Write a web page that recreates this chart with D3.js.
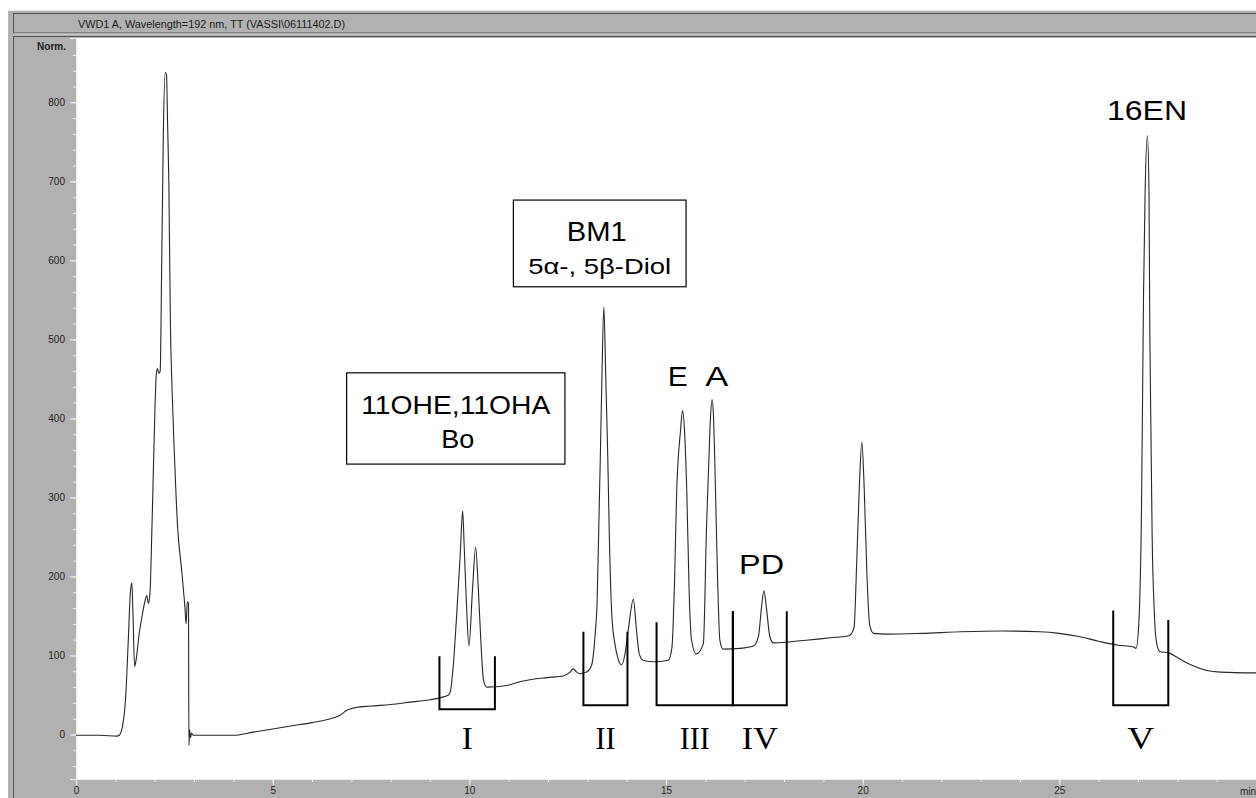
<!DOCTYPE html>
<html>
<head>
<meta charset="utf-8">
<script src="https://cdn.jsdelivr.net/npm/d3@7"></script>
<style>
  body { margin: 0; background: #fff; }
  svg { display: block; }
</style>
</head>
<body>
<div id="chart"></div>
<script>
// Chromatogram trace: retention time (min) and detector signal (Norm.)
const traceTime = [
  0.00, 0.60, 1.05, 1.10, 1.18, 1.26, 1.33, 1.38, 1.42, 1.45, 1.49, 1.53, 1.60, 1.68, 1.75, 1.80, 1.84, 1.88,
  1.93, 1.99, 2.04, 2.07, 2.11, 2.14, 2.18, 2.22, 2.27, 2.30, 2.33, 2.36, 2.40, 2.44, 2.49, 2.58, 2.69, 2.77,
  2.80, 2.83, 2.86, 2.87, 2.89, 2.91, 2.94, 2.98, 3.20, 3.60, 4.00, 4.50, 5.00, 5.50, 6.00, 6.40, 6.70, 6.90,
  7.10, 7.50, 8.00, 8.50, 9.00, 9.30, 9.47, 9.52, 9.59, 9.68, 9.77, 9.83, 9.87, 9.93, 9.99, 10.08, 10.16, 10.23,
  10.30, 10.36, 10.44, 10.95, 11.30, 11.97, 12.39, 12.56, 12.64, 12.73, 12.81, 12.98, 13.11, 13.20, 13.25, 13.29,
  13.33, 13.37, 13.42, 13.47, 13.52, 13.56, 13.62, 13.70, 13.78, 13.87, 13.95, 14.04, 14.17, 14.25, 14.32, 14.42,
  14.68, 15.06, 15.15, 15.22, 15.27, 15.37, 15.42, 15.47, 15.53, 15.59, 15.65, 15.77, 15.95, 16.03, 16.09, 16.13,
  16.17, 16.21, 16.25, 16.31, 16.37, 16.45, 16.88, 17.22, 17.35, 17.43, 17.49, 17.56, 17.64, 17.73, 18.50, 18.92,
  19.30, 19.65, 19.78, 19.85, 19.92, 19.98, 20.04, 20.11, 20.18, 20.28, 20.60, 21.50, 22.50, 23.50, 24.50, 25.00,
  25.50, 26.00, 26.50, 26.87, 26.95, 27.02, 27.09, 27.14, 27.18, 27.24, 27.28, 27.30, 27.33, 27.36, 27.41, 27.46,
  27.55, 27.80, 27.98, 28.15, 28.40, 28.75, 29.10, 30.00
];
const traceSignal = [
  -1, -1, -2, -1, 10, 45, 120, 178, 192, 150, 86, 95, 125, 150, 168, 176, 166, 178,
  260, 380, 455, 463, 457, 460, 600, 760, 838, 835, 770, 700, 520, 440, 370, 265, 206, 160,
  140, 168, 166, -14, 6, -4, 2, -1, -1, -1, -1, 3, 7, 11, 15, 19, 24, 31,
  34, 36, 38, 41, 44, 47, 50, 55, 86, 153, 229, 283, 237, 161, 112, 183, 237, 183,
  111, 69, 60, 62, 67, 72, 74, 79, 83, 79, 77, 79, 88, 128, 170, 260,
  350, 450, 541, 450, 350, 250, 153, 115, 96, 88, 100, 132, 171, 132, 102, 94,
  92, 94, 110, 200, 305, 385, 410, 385, 305, 178, 119, 102, 115, 263, 347, 400,
  424, 400, 326, 200, 119, 108, 109, 112, 124, 162, 182, 157, 124, 116, 119, 121,
  123, 125, 135, 220, 320, 370, 310, 200, 138, 128, 127, 128, 130, 131, 130, 128,
  124, 118, 113, 111, 109, 140, 290, 553, 684, 758, 684, 513, 381, 250, 160, 120,
  105, 103, 98, 93, 87, 81, 79, 78
];

// Axis ticks
const xMajorTicks = [0, 5, 10, 15, 20, 25];
const xMinorTicks = d3.range(0, 31, 1);
const yMajorTicks = [0, 100, 200, 300, 400, 500, 600, 700, 800];
const yMinorTicks = d3.range(-40, 880, 20);

// Collected fractions (brackets under the trace)
const fractionNames = ["I", "II", "III", "IV", "V"];
const fractionStart = [9.24, 12.90, 14.76, 16.70, 26.37];
const fractionEnd   = [10.65, 14.02, 16.70, 18.07, 27.77];
const fractionTopL  = [99, 130, 142, 156, 157];
const fractionTopR  = [99, 130, 156, 156, 145];
const fractionFloor = [32, 37, 37, 37, 37];

// Peak names
const peakNames = ["E", "A", "PD", "16EN"];
const peakTimes = [15.30, 16.29, 17.43, 27.23];
const peakLabelLevel = [442, 442, 204, 779];

const titleText = "VWD1 A, Wavelength=192 nm, TT (VASSI\\06111402.D)";

const W = 1256, H = 798;
const svg = d3.select("#chart").append("svg")
    .attr("width", W)
    .attr("height", H);

// scales: plot area spans 76..1256 px and 38..779 px
const x = d3.scaleLinear().domain([0, 30]).range([76, 1256]);
const y = d3.scaleLinear().domain([-56.3, 881.4]).range([779, 38]);

// window frame (grey ChemStation look)
svg.append("rect").attr("x", 8).attr("y", 10).attr("width", W).attr("height", H)
   .attr("fill", "#b1b1b1");
svg.append("line").attr("x1", 8).attr("x2", W).attr("y1", 10.5).attr("y2", 10.5)
   .attr("stroke", "#e2e2e2");
svg.append("rect").attr("x", 13.5).attr("y", 13.5).attr("width", W).attr("height", 19.5)
   .attr("fill", "#b1b1b1").attr("stroke", "#505050");
svg.append("line").attr("x1", 14).attr("x2", W).attr("y1", 34).attr("y2", 34)
   .attr("stroke", "#dcdcdc");
svg.append("rect").attr("x", 13.5).attr("y", 36.5).attr("width", W).attr("height", H)
   .attr("fill", "none").attr("stroke", "#555");

svg.append("text")
   .attr("x", 78).attr("y", 27.5)
   .attr("textLength", 267).attr("lengthAdjust", "spacingAndGlyphs")
   .style("font-family", "Arial, 'Liberation Sans', sans-serif")
   .style("font-size", "10px")
   .attr("fill", "#1a1a1a")
   .text(titleText);

// white plot area
svg.append("rect")
   .attr("x", x(0)).attr("y", y(881.4))
   .attr("width", x(30) - x(0)).attr("height", y(-56.3) - y(881.4))
   .attr("fill", "#fff");

svg.append("text")
   .attr("x", 66).attr("y", 50)
   .attr("text-anchor", "end")
   .style("font-family", "Arial, 'Liberation Sans', sans-serif")
   .style("font-size", "10px")
   .style("font-weight", "bold")
   .attr("fill", "#222")
   .text("Norm.");

// axes
function styleAxis(g) {
    g.select(".domain").attr("stroke", "#eeeeee");
    g.selectAll(".tick line").attr("stroke", "#f2f2f2");
    g.selectAll(".tick text")
     .attr("fill", "#1e1e1e")
     .style("font-family", "Arial, 'Liberation Sans', sans-serif")
     .style("font-size", "10px");
}

svg.append("g")
   .attr("transform", `translate(${x(0)},0)`)
   .call(d3.axisLeft(y).tickValues(yMinorTicks).tickSize(3).tickFormat(""))
   .call(styleAxis);
svg.append("g")
   .attr("transform", `translate(${x(0)},0)`)
   .call(d3.axisLeft(y).tickValues(yMajorTicks).tickSize(6).tickPadding(5))
   .call(styleAxis);

svg.append("g")
   .attr("transform", `translate(0,${y(-56.3)})`)
   .call(d3.axisBottom(x).tickValues(xMinorTicks).tickSize(3).tickFormat(""))
   .call(styleAxis);
svg.append("g")
   .attr("transform", `translate(0,${y(-56.3)})`)
   .call(d3.axisBottom(x).tickValues(xMajorTicks).tickSize(6).tickPadding(2))
   .call(styleAxis);

svg.append("text")
   .attr("x", x(30) - 16).attr("y", 795)
   .style("font-family", "Arial, 'Liberation Sans', sans-serif")
   .style("font-size", "10px")
   .attr("fill", "#1e1e1e")
   .text("min");

// the trace
const points = traceTime.map((t, i) => [t, traceSignal[i]]);
const line = d3.line()
    .x(d => x(d[0]))
    .y(d => y(d[1]))
    .curve(d3.curveMonotoneX);

svg.append("path")
   .datum(points)
   .attr("fill", "none")
   .attr("stroke", "#262626")
   .attr("stroke-width", 1.1)
   .attr("d", line);

// fraction brackets + roman numerals
const romanWidth = { "I": 11, "II": 20, "III": 30, "IV": 36, "V": 27 };
fractionNames.forEach((name, i) => {
    const x1 = x(fractionStart[i]), x2 = x(fractionEnd[i]);
    svg.append("path")
       .attr("d", `M${x1},${y(fractionTopL[i])}V${y(fractionFloor[i])}H${x2}V${y(fractionTopR[i])}`)
       .attr("fill", "none")
       .attr("stroke", "#000")
       .attr("stroke-width", 2);
    svg.append("text")
       .attr("x", (x1 + x2) / 2 - romanWidth[name] / 2)
       .attr("y", 749)
       .attr("textLength", romanWidth[name]).attr("lengthAdjust", "spacingAndGlyphs")
       .style("font-family", "'Liberation Serif', 'Times New Roman', serif")
       .style("font-size", "31px")
       .attr("fill", "#000")
       .text(name);
});

// peak labels
const peakWidth = { "E": 20, "A": 23, "PD": 45, "16EN": 80 };
peakNames.forEach((name, i) => {
    svg.append("text")
       .attr("x", x(peakTimes[i]) - peakWidth[name] / 2)
       .attr("y", y(peakLabelLevel[i]) + 1)
       .attr("textLength", peakWidth[name]).attr("lengthAdjust", "spacingAndGlyphs")
       .style("font-family", "Arial, 'Liberation Sans', sans-serif")
       .style("font-size", "27px")
       .attr("fill", "#000")
       .text(name);
});

// boxed annotations
function labelBox(t1, t2, v1, v2, lines) {
    const bx = x(t1), by = y(v1), bw = x(t2) - x(t1), bh = y(v2) - y(v1);
    svg.append("rect")
       .attr("x", bx).attr("y", by).attr("width", bw).attr("height", bh)
       .attr("fill", "#fff").attr("stroke", "#000").attr("stroke-width", 1.2);
    lines.forEach(l => {
        svg.append("text")
           .attr("x", bx + bw / 2 + l.dx - l.len / 2)
           .attr("y", by + l.dy)
           .attr("textLength", l.len).attr("lengthAdjust", "spacingAndGlyphs")
           .style("font-family", "Arial, 'Liberation Sans', sans-serif")
           .style("font-size", l.size + "px")
           .attr("fill", "#000")
           .text(l.text);
    });
}

labelBox(6.88, 12.43, 457.7, 342.2, [
    { text: "11OHE,11OHA", dy: 41.5, dx: 0, len: 189, size: 25 },
    { text: "Bo", dy: 75, dx: 2, len: 33, size: 25 }
]);
labelBox(11.12, 15.51, 676.3, 566.6, [
    { text: "BM1", dy: 41, dx: -3, len: 60, size: 27 },
    { text: "5\u03b1-, 5\u03b2-Diol", dy: 74, dx: 0, len: 143, size: 22 }
]);
</script>
</body>
</html>
